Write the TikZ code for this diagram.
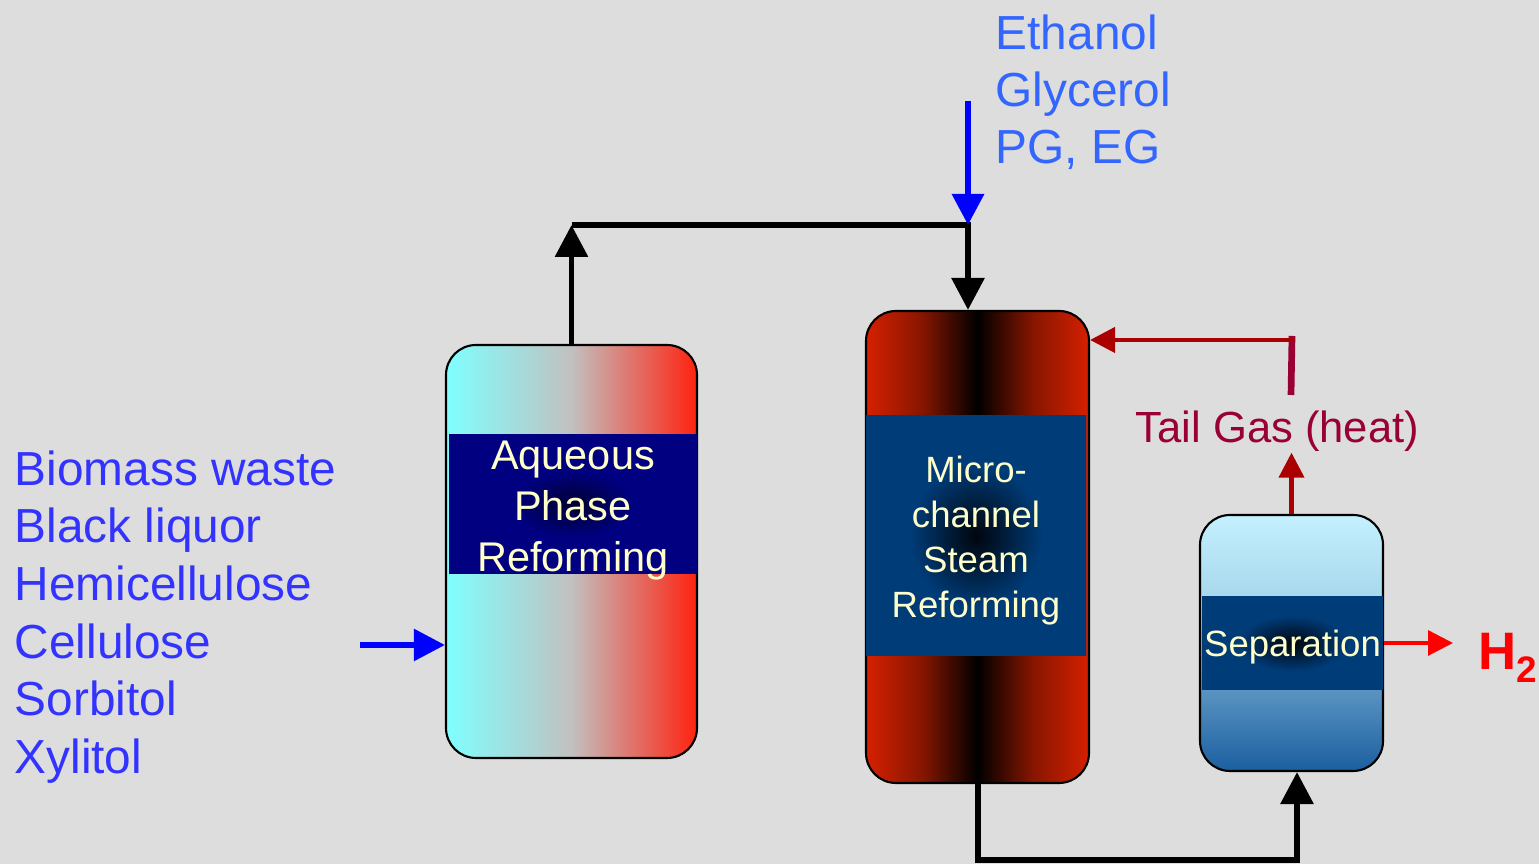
\documentclass[tikz,border=0pt]{standalone}
\usepackage{fontspec}
\setmainfont{Liberation Sans}
\usepackage{xcolor}
\usepackage{tikz}
\usetikzlibrary{arrows.meta, positioning}
\definecolor{fondGris}{RGB}{221, 221, 221}
\definecolor{cyanAPR}{RGB}{128, 255, 255}
\definecolor{grisAPR}{RGB}{194, 192, 192}
\definecolor{rougeAPR}{RGB}{255, 34, 16}
\definecolor{bleuNuit}{RGB}{0, 0, 128}
\definecolor{bleuNuitSombre}{RGB}{0, 0, 48}
\definecolor{rougeMSR}{RGB}{214, 32, 0}
\definecolor{brunMSR}{RGB}{135, 22, 0}
\definecolor{bleuBande}{RGB}{0, 60, 120}
\definecolor{bleuBandeMoyen}{RGB}{0, 30, 62}
\definecolor{bleuBandeSombre}{RGB}{0, 6, 14}
\definecolor{cielHaut}{RGB}{196, 240, 255}
\definecolor{cielBas}{RGB}{168, 216, 236}
\definecolor{merBas}{RGB}{90, 148, 194}
\definecolor{merFond}{RGB}{27, 95, 160}
\definecolor{creme}{RGB}{255, 255, 204}
\definecolor{bleuListe}{RGB}{51, 51, 255}
\definecolor{bleuAlcool}{RGB}{51, 102, 255}
\definecolor{bleuFleche}{RGB}{0, 0, 255}
\definecolor{bordeaux}{RGB}{153, 0, 51}
\definecolor{rougeFonce}{RGB}{170, 0, 0}
\definecolor{rougeVif}{RGB}{255, 0, 0}
\pgfdeclarehorizontalshading{msrShade}{100bp}{color(0bp)=(rougeMSR);
  color(25bp)=(rougeMSR); color(37.5bp)=(brunMSR); color(50bp)=(black);
  color(62.5bp)=(brunMSR); color(75bp)=(rougeMSR); color(100bp)=(rougeMSR)}
\pgfdeclareverticalshading{sepShade}{100bp}{color(0bp)=(merFond);
  color(25bp)=(merFond); color(41bp)=(merBas); color(59bp)=(cielBas);
  color(75bp)=(cielHaut); color(100bp)=(cielHaut)}
\pgfdeclareradialshading{glowNuit}{\pgfpoint{0bp}{0bp}}{color(0bp)=(bleuNuitSombre);
  color(12bp)=(bleuNuit); color(50bp)=(bleuNuit)}
\pgfdeclareradialshading{glowBande}{\pgfpoint{0bp}{0bp}}{color(0bp)=(bleuBandeSombre);
  color(7bp)=(bleuBandeMoyen); color(15bp)=(bleuBande); color(50bp)=(bleuBande)}

\begin{document}
\begin{tikzpicture}[
  vessel/.style={rectangle, rounded corners=0.3cm, draw=black, line width=0.6pt},
  band/.style={rectangle, inner sep=0pt, shade},
  bandTxt/.style={inner sep=0pt, align=center, text=creme},
  feed/.style={font=\fontsize{13.6}{16.4}\selectfont, align=left,
    anchor=north west, inner sep=0pt},
  arr/.style={-{Triangle[length=0.32cm, width=0.32cm]}, line width=1.7pt},
  arrBleu/.style={-{Triangle[length=0.31cm, width=0.31cm]}, line width=1.8pt,
    draw=bleuFleche},
  arrChaleur/.style={-{Triangle[length=0.25cm, width=0.25cm]}, line width=1.2pt,
    draw=rougeFonce},
  arrH/.style={-{Triangle[length=0.25cm, width=0.25cm]}, line width=0.9pt,
    draw=rougeVif},
]
\path[use as bounding box, fill=fondGris] (0,0) rectangle (15.39,8.64);

% vessels
\node[vessel, left color=cyanAPR, right color=rougeAPR, middle color=grisAPR,
  minimum width=2.51cm, minimum height=4.13cm] (apr) at (5.715,3.125) {};
\node[band, shading=glowNuit, minimum width=2.48cm, minimum height=1.39cm]
  (aprBand) at (5.73,3.595) {};
\node[bandTxt, font=\fontsize{11.8}{14.5}\selectfont, yshift=-0.065cm]
  (aprTxt) at (aprBand) {Aqueous\\Phase\\Reforming};
\node[vessel, shade, shading=msrShade,
  minimum width=2.23cm, minimum height=4.72cm] (msr) at (9.775,3.17) {};
\node[band, shading=glowBande, minimum width=2.20cm, minimum height=2.40cm]
  (msrBand) at (9.76,3.28) {};
\node[bandTxt, font=\fontsize{10.4}{12.8}\selectfont, yshift=-0.045cm]
  (msrTxt) at (msrBand) {Micro-\\channel\\Steam\\Reforming};
\node[vessel, shade, shading=sepShade,
  minimum width=1.83cm, minimum height=2.56cm] (sep) at (12.915,2.21) {};
\node[band, shading=glowBande, minimum width=1.81cm, minimum height=0.93cm]
  (sepBand) at (12.925,2.205) {};
\node[bandTxt, font=\fontsize{10.4}{12.8}\selectfont, yshift=-0.035cm]
  (sepTxt) at (sepBand) {Separation};

% feeds and products
\node[feed, text=bleuListe] (biomasse) at (0.14,4.14)
  {Biomass waste\\Black liquor\\Hemicellulose\\Cellulose\\Sorbitol\\Xylitol};
\node[feed, text=bleuAlcool, font=\fontsize{13.6}{16.2}\selectfont] (alcools)
  at (9.95,8.50) {Ethanol\\Glycerol\\PG, EG};
\node[font=\fontsize{12.4}{14}\selectfont, text=bordeaux, anchor=base west,
  inner sep=0pt] (tail) at (11.35,4.21) {Tail Gas (heat)};
\node[font=\fontsize{15}{18}\selectfont\bfseries, text=rougeVif, anchor=base west,
  inner sep=0pt] (h2) at (14.78,1.94)
  {H\raisebox{-3.7pt}{\fontsize{10.5}{12}\selectfont 2}};

\coordinate (feedIn)   at (3.60,2.19);
\coordinate (ethIn)    at (9.68,7.63);
\coordinate (junction) at (9.68,6.39);
\coordinate (sepFeed)  at (12.97,0.04);
\coordinate (heatStub) at (12.91,4.69);
\coordinate (heatTop)  at (12.92,5.28);
\coordinate (heatOut)  at (12.94,5.24);

% connectors
\draw[arr] (apr.north) -- (apr.north |- junction);
\draw[arr] (apr.north |- junction) -- (junction) -- (junction |- msr.north);
\draw[arrBleu] (ethIn) -- (junction);
\draw[arrBleu, line width=1.6pt] (feedIn) -- (feedIn -| apr.west);
\draw[arr] (msr.south) |- (sepFeed) -- (sepFeed |- sep.south);
\draw[arrChaleur] (sep.north) -- (sep.north |- tail.south);
\draw[line width=1.9pt, draw=bordeaux] (heatStub) -- (heatTop);
\draw[arrChaleur] (heatOut) -- (heatOut -| msr.east);
\draw[arrH, shorten >=0.25cm] (sep.east) -- (sep.east -| h2.west);
\end{tikzpicture}
\end{document}
